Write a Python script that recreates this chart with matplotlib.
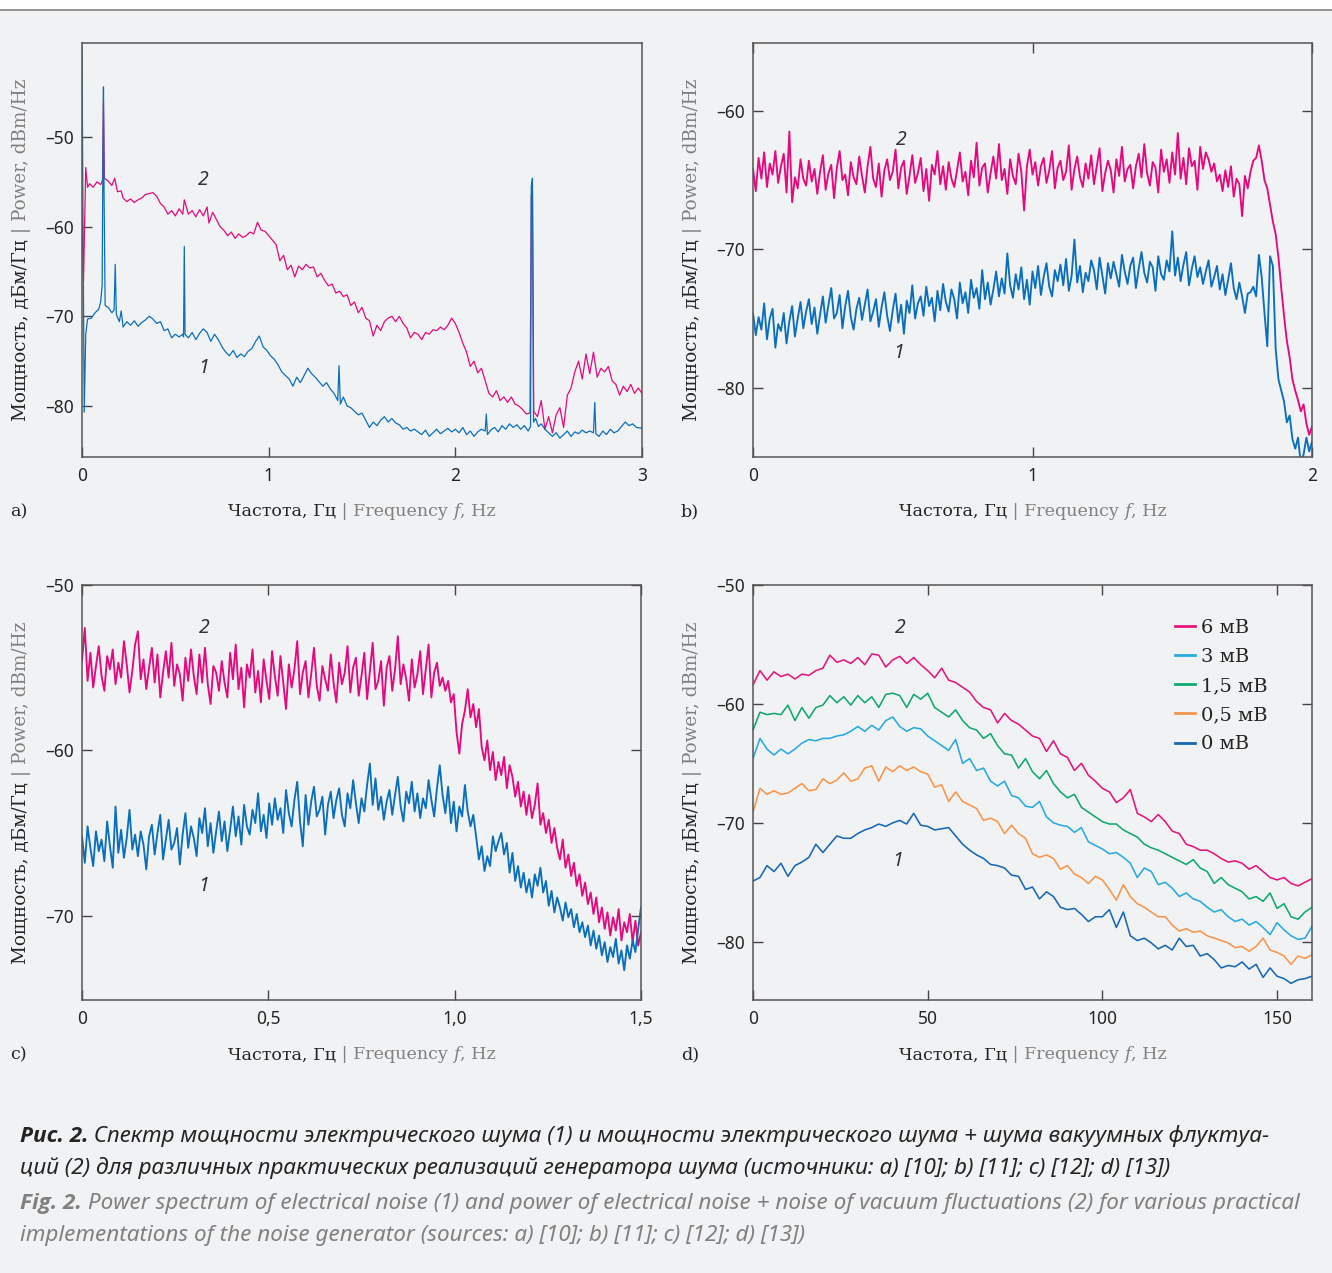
import numpy as np
import matplotlib
matplotlib.use("Agg")
import matplotlib.pyplot as plt
from matplotlib.transforms import IdentityTransform
from matplotlib.lines import Line2D
from matplotlib.patches import Rectangle

W, H = 1332, 1273
BG = "#f1f2f4"
DARK = "#242424"
GREY = "#808080"
PINK = "#e4097e"
BLUE = "#0a6fba"
SERIF = "DejaVu Serif"
SANS = "Noto Sans"

# ---- panel a: electrical noise (1) and noise + vacuum (2), with spikes
a2_freq = [0.000, 0.008, 0.020, 0.030, 0.040, 0.060, 0.080, 0.100, 0.110, 0.115, 0.120, 0.140, 0.160, 0.175, 0.190,
           0.210, 0.220, 0.240, 0.260, 0.280, 0.300, 0.320, 0.340, 0.360, 0.380, 0.400, 0.420, 0.440, 0.460, 0.480,
           0.500, 0.520, 0.540, 0.548, 0.570, 0.590, 0.610, 0.630, 0.650, 0.670, 0.680, 0.700, 0.720, 0.740, 0.760,
           0.780, 0.800, 0.820, 0.840, 0.860, 0.880, 0.900, 0.920, 0.940, 0.960, 0.980, 1.000, 1.020, 1.040, 1.060,
           1.080, 1.100, 1.120, 1.140, 1.160, 1.180, 1.200, 1.220, 1.240, 1.260, 1.280, 1.300, 1.320, 1.340, 1.360,
           1.380, 1.400, 1.420, 1.440, 1.460, 1.480, 1.500, 1.520, 1.540, 1.560, 1.580, 1.600, 1.620, 1.640, 1.660,
           1.680, 1.700, 1.720, 1.740, 1.760, 1.780, 1.800, 1.820, 1.840, 1.860, 1.880, 1.900, 1.920, 1.940, 1.960,
           1.980, 2.000, 2.020, 2.040, 2.060, 2.080, 2.100, 2.120, 2.140, 2.160, 2.180, 2.200, 2.220, 2.240, 2.260,
           2.280, 2.300, 2.320, 2.340, 2.360, 2.380, 2.400, 2.407, 2.413, 2.420, 2.440, 2.460, 2.480, 2.500, 2.520,
           2.540, 2.560, 2.580, 2.600, 2.620, 2.640, 2.660, 2.680, 2.700, 2.720, 2.740, 2.760, 2.780, 2.800, 2.820,
           2.840, 2.860, 2.880, 2.900, 2.920, 2.940, 2.960, 2.980, 3.000]
a2_db = [-58.0, -66.1, -53.4, -55.6, -55.2, -55.6, -55.0, -55.3, -54.8, -46.0, -54.6, -54.9, -55.4, -54.6, -56.1,
         -56.0, -56.8, -57.2, -56.9, -57.3, -57.0, -56.8, -56.4, -56.3, -56.2, -56.6, -57.4, -57.8, -58.6, -58.2,
         -58.8, -58.0, -58.6, -57.0, -58.6, -58.2, -58.9, -58.1, -58.8, -57.8, -59.6, -58.4, -59.2, -60.0, -60.4,
         -61.0, -60.6, -61.3, -60.8, -61.2, -61.0, -60.6, -60.8, -59.5, -60.4, -60.5, -61.0, -61.5, -62.0, -63.8,
         -63.2, -64.8, -64.3, -65.6, -64.4, -64.8, -64.2, -64.6, -64.5, -65.6, -65.2, -66.0, -66.6, -66.4, -67.4,
         -67.2, -67.8, -67.6, -68.8, -68.4, -69.6, -69.0, -70.2, -70.5, -72.2, -71.0, -71.6, -70.6, -70.2, -70.0,
         -70.6, -70.0, -70.8, -71.3, -72.4, -71.8, -72.0, -72.6, -71.8, -72.0, -71.5, -71.6, -71.2, -71.5, -71.0,
         -70.2, -70.8, -71.8, -73.0, -74.0, -75.6, -75.0, -76.3, -75.8, -77.2, -78.6, -79.0, -78.3, -79.4, -79.0,
         -79.6, -79.0, -79.8, -80.0, -80.4, -80.9, -80.8, -56.5, -56.0, -80.6, -81.2, -79.4, -82.6, -81.2, -83.0,
         -81.0, -80.2, -82.4, -78.8, -78.0, -76.2, -75.0, -77.0, -74.2, -76.4, -74.0, -76.8, -75.8, -76.2, -75.6,
         -77.2, -77.6, -78.8, -77.8, -78.4, -77.6, -78.6, -78.0, -78.6]
a1_freq = [0.000, 0.006, 0.012, 0.020, 0.030, 0.050, 0.070, 0.090, 0.100, 0.108, 0.112, 0.115, 0.118, 0.124, 0.140,
           0.160, 0.172, 0.178, 0.184, 0.200, 0.210, 0.220, 0.240, 0.260, 0.280, 0.300, 0.320, 0.340, 0.360, 0.380,
           0.400, 0.420, 0.440, 0.460, 0.480, 0.500, 0.520, 0.540, 0.544, 0.548, 0.552, 0.570, 0.590, 0.610, 0.630,
           0.650, 0.670, 0.690, 0.710, 0.730, 0.750, 0.770, 0.790, 0.810, 0.830, 0.850, 0.870, 0.890, 0.910, 0.930,
           0.950, 0.970, 0.990, 1.010, 1.030, 1.050, 1.070, 1.090, 1.110, 1.130, 1.150, 1.170, 1.190, 1.210, 1.230,
           1.250, 1.270, 1.290, 1.310, 1.330, 1.350, 1.370, 1.377, 1.384, 1.400, 1.420, 1.440, 1.460, 1.480, 1.500,
           1.520, 1.540, 1.560, 1.580, 1.600, 1.620, 1.640, 1.660, 1.680, 1.700, 1.720, 1.740, 1.760, 1.780, 1.800,
           1.820, 1.840, 1.860, 1.880, 1.900, 1.920, 1.940, 1.960, 1.980, 2.000, 2.020, 2.040, 2.060, 2.080, 2.100,
           2.120, 2.140, 2.160, 2.166, 2.172, 2.190, 2.210, 2.230, 2.250, 2.270, 2.290, 2.310, 2.330, 2.350, 2.370,
           2.390, 2.403, 2.407, 2.413, 2.419, 2.430, 2.445, 2.460, 2.480, 2.500, 2.520, 2.540, 2.560, 2.580, 2.600,
           2.620, 2.640, 2.660, 2.680, 2.700, 2.720, 2.740, 2.747, 2.753, 2.770, 2.790, 2.810, 2.830, 2.850, 2.870,
           2.890, 2.910, 2.930, 2.950, 2.970, 3.000]
a1_db = [-40.0, -62.0, -80.7, -72.0, -70.3, -70.2, -69.6, -69.2, -68.4, -66.5, -52.0, -44.4, -56.0, -68.8, -69.0,
         -69.6, -69.3, -64.2, -69.8, -70.6, -69.4, -71.2, -70.6, -71.0, -70.5, -71.1, -70.7, -70.4, -70.0, -70.3,
         -70.8, -70.6, -71.6, -71.4, -72.4, -72.0, -72.3, -72.0, -72.3, -62.2, -72.0, -72.4, -71.8, -72.6, -71.9,
         -71.4, -71.8, -72.8, -72.0, -72.6, -73.4, -74.0, -74.4, -73.8, -74.6, -74.2, -74.5, -73.9, -73.6, -72.8,
         -72.2, -73.4, -73.8, -74.4, -74.8, -75.4, -76.2, -76.6, -77.0, -77.8, -76.8, -77.4, -76.6, -75.8, -76.4,
         -76.8, -77.3, -77.8, -77.4, -78.1, -78.6, -79.4, -75.5, -79.8, -79.0, -80.0, -80.2, -80.6, -81.0, -80.8,
         -81.6, -82.4, -81.8, -82.2, -81.6, -81.2, -81.8, -81.4, -81.9, -82.1, -82.6, -82.4, -82.8, -82.6, -82.9,
         -83.2, -82.7, -83.4, -83.0, -82.6, -83.1, -82.8, -82.5, -82.9, -82.6, -83.0, -82.4, -83.2, -82.8, -83.4,
         -82.9, -82.6, -82.8, -80.9, -83.2, -82.7, -82.4, -82.9, -82.2, -82.6, -82.0, -82.4, -82.1, -82.6, -82.2,
         -82.8, -82.3, -55.5, -54.6, -81.8, -81.4, -82.3, -82.0, -82.6, -83.0, -83.4, -83.0, -83.6, -83.2, -82.8,
         -83.4, -82.9, -83.1, -82.7, -83.0, -82.8, -83.0, -79.6, -83.1, -83.4, -82.8, -83.2, -82.6, -83.0, -82.8,
         -82.3, -81.8, -82.2, -82.0, -82.4, -82.5]

# ---- panel b: 0..2 Hz, 201 evenly spaced bins
b2_db = [-64.2, -65.8, -63.4, -64.9, -63.0, -65.5, -63.8, -64.6, -62.9, -65.2,
         -64.0, -63.1, -65.9, -61.5, -66.6, -64.8, -65.6, -63.5, -64.9, -65.4,
         -63.6, -65.1, -64.2, -66.0, -64.4, -63.2, -65.7, -64.5, -63.9, -66.3,
         -64.1, -62.9, -65.0, -64.6, -66.1, -63.7, -64.8, -65.3, -63.3, -64.7,
         -65.9, -64.0, -62.6, -64.9, -65.5, -63.8, -66.2, -64.3, -63.5, -65.0,
         -64.4, -62.8, -65.6, -64.1, -63.6, -66.0, -64.7, -63.2, -65.2, -64.5,
         -63.4, -65.8, -64.2, -66.5, -63.9, -64.6, -62.9, -65.3, -64.0, -65.7,
         -63.7, -64.9, -65.5, -64.3, -63.0, -65.1, -64.4, -66.1, -63.6, -64.8,
         -62.3, -65.4, -64.1, -63.8, -65.9, -64.5, -63.3, -64.9, -62.4, -65.0,
         -64.2, -66.0, -63.5, -64.7, -65.3, -63.1, -64.4, -67.2, -64.0, -62.8,
         -64.6, -63.7, -65.4, -64.0, -63.4, -65.2, -64.3, -62.9, -65.6, -64.1,
         -63.6, -65.0, -64.4, -62.5, -65.7, -64.2, -63.3, -64.8, -65.5, -63.8,
         -64.9, -63.2, -65.3, -64.0, -62.7, -65.8, -64.5, -63.6, -64.3, -65.9,
         -63.5, -64.7, -62.6, -65.1, -64.2, -63.9, -65.6, -64.0, -63.1, -64.8,
         -62.4, -64.5, -65.4, -63.7, -64.1, -65.9, -62.8, -64.4, -63.5, -65.2,
         -63.0, -64.6, -61.6, -64.9, -63.4, -65.3, -62.7, -64.0, -63.6, -65.7,
         -62.6, -64.2, -63.0, -63.5, -64.4, -63.8, -65.1, -64.6, -65.8, -64.3,
         -65.5, -64.0, -66.2, -64.9, -65.3, -67.6, -64.7, -65.6, -64.4, -63.6,
         -63.4, -62.5, -63.6, -65.0, -65.6, -66.8, -68.0, -68.9, -70.6, -72.8,
         -74.8, -76.6, -77.8, -79.4, -80.2, -80.9, -81.7, -81.2, -82.6, -83.4, -82.8]
b1_db = [-74.6, -76.2, -74.9, -75.8, -73.9, -76.5, -75.0, -74.3, -77.1, -75.4,
         -75.9, -74.6, -76.8, -75.2, -74.1, -76.3, -75.0, -73.8, -75.7, -74.5,
         -73.6, -75.4, -74.2, -76.1, -74.7, -73.4, -75.3, -74.0, -72.8, -75.0,
         -74.6, -73.3, -75.7, -74.1, -73.0, -74.9, -75.8, -74.3, -73.5, -75.1,
         -74.0, -72.9, -75.2, -74.5, -73.6, -75.6, -74.2, -73.1, -74.8, -75.9,
         -74.4, -73.2, -75.3, -74.0, -76.1, -73.7, -74.6, -72.6, -75.0, -73.9,
         -73.4, -74.8, -72.7, -74.1, -73.5, -75.2, -73.0, -74.4, -72.5, -73.8,
         -74.5, -72.9, -73.6, -75.0, -72.4, -73.9, -73.1, -74.6, -72.2, -73.5,
         -72.8, -74.3, -71.5, -73.6, -72.4, -74.0, -72.9, -71.6, -73.4, -72.1,
         -73.2, -70.3, -72.6, -73.5, -71.8, -72.9, -71.3, -73.6, -72.2, -74.0,
         -71.6, -72.8, -71.2, -73.3, -72.0, -71.0, -72.7, -73.4, -71.5, -72.3,
         -71.1, -72.6, -70.7, -73.0, -71.9, -69.3, -72.4, -71.2, -73.1, -71.7,
         -72.3, -70.8, -71.5, -72.9, -70.6, -71.9, -73.2, -71.0, -72.1, -70.9,
         -71.8, -72.7, -70.4, -71.6, -72.5, -71.2, -70.6, -72.8, -71.4, -70.2,
         -71.7, -72.4, -70.9, -71.3, -73.0, -70.5, -71.8, -72.2, -70.8, -71.6,
         -68.7, -71.9, -70.6, -72.3, -71.1, -70.2, -72.6, -71.4, -70.5, -72.0,
         -71.3, -72.5, -71.6, -70.8, -72.7, -72.0, -71.2, -72.9, -71.8, -73.3,
         -72.2, -71.0, -72.8, -73.6, -72.4, -73.4, -74.6, -73.2, -73.1, -72.7,
         -73.4, -70.4, -72.0, -74.6, -77.0, -70.5, -71.2, -77.2, -79.4, -80.2,
         -81.0, -82.5, -82.0, -83.7, -84.4, -83.6, -85.5, -84.8, -83.6, -84.6, -83.9]

# ---- panel c: 0..1.5 Hz, 201 evenly spaced bins
c2_db = [-54.6, -52.6, -55.8, -54.1, -56.2, -54.9, -53.7, -55.5, -56.4, -54.3,
         -55.1, -53.9, -56.0, -54.7, -55.6, -53.4, -54.8, -56.5, -55.2, -53.6,
         -52.8, -55.7, -54.5, -56.3, -55.0, -53.8, -55.9, -54.2, -56.8, -55.3,
         -54.0, -55.6, -53.5, -56.1, -54.8, -55.4, -57.0, -54.4, -55.8, -53.9,
         -55.5, -56.6, -54.2, -55.9, -53.8, -56.0, -57.2, -54.9, -55.3, -56.4,
         -54.6, -55.9, -56.8, -54.1, -55.7, -53.6, -56.3, -55.0, -57.4, -54.8,
         -55.6, -53.9, -56.5, -55.2, -57.1, -54.5, -55.8, -56.9, -54.0, -55.5,
         -56.7, -54.3, -55.9, -57.5, -54.8, -56.2, -55.1, -53.4, -56.6, -55.3,
         -54.6, -56.8, -55.4, -53.8, -56.1, -57.0, -54.9, -55.7, -56.4, -54.2,
         -55.9, -57.1, -54.7, -56.0, -55.3, -53.7, -56.5, -55.0, -54.4, -56.7,
         -55.5, -54.1, -56.9, -55.2, -53.5, -56.3, -55.8, -54.6, -57.3, -55.0,
         -54.3, -56.4, -55.1, -53.1, -56.0, -54.8, -55.7, -57.0, -54.5, -56.2,
         -55.4, -54.0, -56.6, -55.1, -53.6, -56.8, -55.3, -54.7, -56.1, -55.6,
         -56.4, -55.8, -57.1, -56.6, -58.9, -60.2, -58.4, -57.6, -56.3, -58.0,
         -57.2, -58.6, -57.5, -59.8, -60.6, -59.4, -61.2, -60.1, -61.8, -60.7,
         -61.5, -60.4, -62.3, -60.9, -61.6, -62.8, -61.9, -63.4, -62.5, -63.9,
         -62.7, -64.1, -63.3, -62.0, -64.5, -63.8, -65.0, -64.2, -65.6, -64.7,
         -65.9, -66.6, -65.4, -67.1, -66.3, -67.6, -66.8, -68.2, -67.5, -68.8,
         -68.0, -69.3, -68.6, -69.9, -68.9, -70.4, -69.5, -70.8, -69.8, -71.2,
         -70.1, -70.9, -69.6, -71.5, -70.4, -71.0, -69.9, -71.6, -70.3, -71.8, -71.0]
c1_db = [-65.2, -66.8, -64.6, -65.9, -67.0, -64.9, -66.1, -65.4, -66.7, -64.3,
         -65.8, -67.1, -63.4, -66.2, -64.8, -66.5, -65.3, -63.6, -66.0, -65.1,
         -66.4, -64.9, -65.7, -67.2, -65.2, -64.5, -66.3, -65.0, -63.9, -66.6,
         -65.4, -64.2, -66.0, -65.6, -64.7, -66.9, -65.1, -63.8, -65.9, -64.6,
         -65.3, -66.4, -64.1, -65.0, -63.5, -65.8, -64.4, -66.2, -64.9, -63.7,
         -65.5, -64.3, -66.1, -64.8, -63.4, -65.2, -64.0, -65.7, -63.3, -64.6,
         -65.1, -63.6, -64.4, -62.6, -64.9, -63.9, -65.3, -63.2, -64.5, -62.9,
         -64.2, -63.5, -65.0, -62.4, -63.8, -64.6, -63.0, -61.9, -64.3, -65.8,
         -62.7, -64.5, -63.1, -62.2, -64.0, -63.6, -62.8, -65.1, -63.3, -62.5,
         -64.1, -63.0, -62.3, -63.9, -64.6, -62.6, -63.5, -61.8, -63.2, -64.4,
         -62.9, -63.7, -62.1, -60.8, -63.3, -61.7, -63.6, -62.8, -64.2, -63.1,
         -62.4, -63.9, -62.7, -61.6, -63.4, -64.3, -62.5, -63.2, -61.9, -63.7,
         -62.6, -64.1, -62.9, -63.5, -61.8, -63.0, -64.0, -62.3, -60.9, -62.7,
         -63.8, -62.2, -64.4, -63.1, -64.9, -63.4, -64.0, -62.1, -63.7, -64.6,
         -63.9, -65.2, -66.6, -65.8, -67.3, -66.4, -67.0, -65.2, -66.1, -65.5,
         -65.0, -66.3, -65.6, -67.4, -66.2, -67.9, -67.0, -68.3, -67.4, -68.6,
         -67.8, -68.9, -67.5, -68.2, -67.1, -68.6, -67.9, -69.4, -68.5, -69.8,
         -68.9, -69.5, -70.3, -69.2, -70.1, -69.6, -70.7, -69.9, -71.0, -70.4,
         -71.3, -70.6, -71.8, -70.9, -72.0, -71.2, -72.4, -71.6, -72.8, -71.9,
         -72.5, -71.4, -72.9, -72.1, -73.3, -71.8, -72.6, -71.5, -72.2, -70.8, -69.5]

# ---- panel d: 0..160 Hz, 2 Hz bins, five bias voltages
d_labels = ["6 мВ", "3 мВ", "1,5 мВ", "0,5 мВ", "0 мВ"]
d_colors = ["#e5157f", "#27aae1", "#10a870", "#f7964b", "#1768b4"]
d_6mv = [-58.4, -57.2, -58.0, -57.3, -57.7, -57.5, -57.9, -57.5, -57.6, -57.2, -57.0, -55.9, -56.5, -56.3, -56.6,
         -56.1, -56.7, -55.8, -55.9, -56.9, -56.3, -56.0, -56.6, -56.1, -56.7, -57.2, -57.8, -57.0, -58.0, -58.2,
         -58.6, -59.0, -59.8, -60.3, -60.5, -61.6, -60.8, -61.4, -61.7, -62.2, -62.7, -62.9, -64.0, -63.1, -64.2,
         -64.5, -65.6, -65.0, -66.0, -66.5, -67.1, -67.4, -68.3, -67.9, -67.2, -69.2, -69.5, -69.9, -69.3, -69.9,
         -70.7, -70.9, -71.8, -72.0, -72.3, -72.3, -72.6, -73.0, -73.3, -73.2, -73.4, -73.9, -73.6, -74.1, -74.6,
         -74.8, -74.6, -75.1, -75.3, -75.0, -74.7]
d_3mv = [-64.6, -62.9, -63.8, -64.3, -63.8, -64.2, -63.8, -63.3, -63.0, -63.1, -62.9, -62.9, -62.7, -62.6, -62.3,
         -61.9, -62.3, -61.8, -62.2, -61.4, -61.1, -61.9, -62.3, -62.0, -62.1, -62.7, -63.1, -63.5, -63.9, -63.0,
         -65.0, -64.6, -65.6, -65.4, -66.5, -66.9, -66.5, -67.7, -67.9, -68.6, -68.7, -68.2, -69.5, -70.0, -70.2,
         -70.3, -70.8, -70.4, -71.6, -71.9, -72.2, -72.6, -72.5, -72.9, -73.4, -74.6, -73.8, -74.1, -75.2, -75.0,
         -75.5, -76.2, -75.9, -76.4, -76.6, -77.1, -77.5, -77.3, -77.9, -78.3, -78.1, -78.6, -78.3, -78.8, -79.4,
         -78.4, -79.0, -79.5, -79.8, -79.7, -78.7]
d_15mv = [-62.2, -60.7, -60.9, -60.8, -60.9, -60.1, -61.4, -60.3, -61.2, -60.3, -60.1, -59.3, -59.9, -59.4, -60.1,
          -59.3, -59.9, -59.4, -60.3, -59.2, -59.1, -59.3, -60.3, -59.2, -59.6, -59.1, -60.3, -60.7, -61.1, -60.5,
          -61.4, -62.0, -62.2, -62.9, -62.5, -63.5, -64.2, -64.3, -65.4, -64.6, -65.7, -66.3, -65.6, -66.7, -67.4,
          -67.9, -67.6, -68.7, -69.1, -69.5, -69.9, -70.1, -70.1, -70.6, -70.9, -71.2, -71.8, -72.1, -72.3, -72.6,
          -72.9, -73.2, -73.5, -73.1, -73.8, -74.1, -75.1, -74.6, -75.2, -75.5, -75.8, -76.4, -76.2, -76.6, -75.9,
          -77.2, -76.8, -77.9, -78.1, -77.5, -77.1]
d_05mv = [-69.1, -67.1, -67.6, -67.3, -67.6, -67.5, -67.1, -66.7, -67.3, -67.2, -66.3, -66.7, -66.4, -65.8, -66.5,
          -66.3, -65.4, -65.2, -66.5, -65.3, -65.7, -65.2, -65.6, -65.3, -65.7, -65.9, -67.0, -66.8, -68.2, -67.4,
          -68.2, -68.5, -68.8, -69.8, -69.6, -69.9, -70.9, -70.2, -70.9, -71.3, -72.6, -72.9, -72.7, -73.0, -73.9,
          -73.6, -74.3, -74.6, -75.1, -74.5, -74.8, -75.6, -76.5, -75.2, -76.2, -76.8, -77.1, -77.5, -77.9, -77.9,
          -78.6, -79.1, -78.9, -79.2, -79.1, -79.5, -79.7, -79.9, -80.1, -80.5, -80.4, -80.8, -80.4, -79.7, -80.7,
          -80.9, -81.2, -81.9, -81.2, -81.4, -81.1]
d_0mv = [-74.9, -74.6, -73.6, -74.1, -73.4, -74.5, -73.6, -73.3, -72.9, -71.8, -72.5, -71.8, -71.1, -71.3, -71.3,
         -70.9, -70.6, -70.4, -70.1, -70.3, -70.0, -69.8, -70.1, -69.2, -70.2, -70.3, -70.6, -70.5, -70.4, -71.1,
         -71.8, -72.3, -72.7, -73.0, -73.5, -73.6, -73.8, -74.4, -74.5, -75.6, -75.4, -76.4, -75.8, -76.2, -77.1,
         -77.3, -77.2, -77.7, -78.3, -77.9, -77.9, -77.3, -78.8, -77.5, -79.5, -79.9, -79.7, -80.1, -80.6, -80.3,
         -80.7, -79.7, -80.4, -80.3, -81.2, -81.0, -81.5, -82.2, -82.0, -82.1, -81.7, -82.3, -81.9, -83.0, -82.2,
         -82.9, -83.1, -83.5, -83.2, -83.1, -82.9]

fig = plt.figure(figsize=(W / 100, H / 100), dpi=100)
fig.patch.set_facecolor(BG)
renderer = fig.canvas.get_renderer()
PX = IdentityTransform()

# white strip and rule at the very top
fig.add_artist(Rectangle((0, 1 - 9 / H), 1, 9 / H, transform=fig.transFigure, facecolor="white", edgecolor="none"))
fig.add_artist(Line2D([0, 1], [1 - 9.5 / H] * 2, transform=fig.transFigure, color="#8c8c8c", lw=1.3))


def px_axes(left, top, right, bottom):
    return fig.add_axes([left / W, 1 - bottom / H, (right - left) / W, (bottom - top) / H])


def style(ax, xlim, ylim, xticks, xlabels, yticks, all_sides=True):
    ax.set_facecolor(BG)
    ax.set_xlim(*xlim)
    ax.set_ylim(*ylim)
    ax.set_xticks(xticks)
    ax.set_xticklabels(xlabels)
    ax.set_yticks(yticks)
    ax.set_yticklabels(["\u2013" + str(abs(v)) for v in yticks])
    ax.tick_params(direction="in", length=7, width=1.0, color="#444444", labelsize=12.5,
                   labelcolor=DARK, top=all_sides, right=all_sides)
    ax.tick_params(axis="x", pad=7)
    ax.tick_params(axis="y", pad=6)
    for lab in ax.get_xticklabels() + ax.get_yticklabels():
        lab.set_family(SANS)
    for s in ax.spines.values():
        s.set_color("#555555")
        s.set_linewidth(1.1)


def advance(s, **kw):
    t = fig.text(0, 0, "x" + s + "x", **kw)
    w1 = t.get_window_extent(renderer).width
    t.set_text("xx")
    w0 = t.get_window_extent(renderer).width
    t.remove()
    return w1 - w0


def rich_text(x, y, pieces, size, family, rotation=0, align="center"):
    # pieces: (text, colour, style, weight[, family]); x, y are pixels from top-left
    pieces = [p if len(p) == 5 else p + (family,) for p in pieces]
    widths = [advance(p[0], fontsize=size, family=p[4], fontstyle=p[2], fontweight=p[3]) for p in pieces]
    total = sum(widths)
    yb = H - y
    if rotation == 0:
        pos = x - total / 2 if align == "center" else x
    else:
        pos = yb - total / 2
    for (s, c, st, wt, fam), w in zip(pieces, widths):
        if rotation == 0:
            fig.text(pos, yb, s, transform=PX, color=c, fontsize=size, family=fam, fontstyle=st,
                     fontweight=wt, ha="left", va="baseline")
        else:
            fig.text(x, pos, s, transform=PX, color=c, fontsize=size, family=fam, fontstyle=st,
                     fontweight=wt, ha="left", va="baseline", rotation=90, rotation_mode="anchor")
        pos += w


xlab = [("Частота, Гц", DARK, "normal", "normal"), (" | Frequency ", GREY, "normal", "normal"),
        ("f", GREY, "italic", "normal"), (", Hz", GREY, "normal", "normal")]
ylab = [("Мощность, дБм/Гц", DARK, "normal", "normal"), (" | Power, dBm/Hz", GREY, "normal", "normal")]
XLAB = 12.6
YLAB = 13.2


def decorate(left, right, top, bottom, letter):
    cx = (left + right) / 2
    rich_text(cx, bottom + 59, xlab, XLAB, SERIF)
    rich_text(left - 56, (top + bottom) / 2, ylab, YLAB, SERIF, rotation=90)
    fig.text(left - 72, H - (bottom + 59), letter, transform=PX, fontsize=XLAB, family=SERIF,
             color=DARK, ha="left", va="baseline")


def curve_label(ax, x, y, s):
    ax.text(x, y, s, fontsize=14, fontstyle="italic", family=SANS, color="#333333", ha="center", va="center")


# panel a
ax = px_axes(82, 43, 642, 457)
ax.plot(a2_freq, a2_db, color=PINK, lw=0.9)
ax.plot(a1_freq, a1_db, color=BLUE, lw=0.9)
style(ax, (0, 3), (-85.7, -39.5), [0, 1, 2, 3], ["0", "1", "2", "3"], [-50, -60, -70, -80], all_sides=False)
curve_label(ax, 0.65, -54.8, "2")
curve_label(ax, 0.65, -75.8, "1")
decorate(82, 642, 43, 457, "a)")

# panel b
ax = px_axes(753, 43, 1312, 457)
ax.plot(np.linspace(0, 2, len(b2_db)), b2_db, color=PINK, lw=1.35)
ax.plot(np.linspace(0, 2, len(b1_db)), b1_db, color=BLUE, lw=1.35)
style(ax, (0, 2), (-85.0, -55.1), [0, 1, 2], ["0", "1", "2"], [-60, -70, -80])
curve_label(ax, 0.53, -62.1, "2")
curve_label(ax, 0.52, -77.5, "1")
decorate(753, 1312, 43, 457, "b)")

# panel c
ax = px_axes(82, 585, 641, 1000)
ax.plot(np.linspace(0, 1.5, len(c2_db)), c2_db, color=PINK, lw=1.35)
ax.plot(np.linspace(0, 1.5, len(c1_db)), c1_db, color=BLUE, lw=1.35)
style(ax, (0, 1.5), (-75.1, -50), [0, 0.5, 1.0, 1.5], ["0", "0,5", "1,0", "1,5"], [-50, -60, -70])
curve_label(ax, 0.327, -52.6, "2")
curve_label(ax, 0.327, -68.2, "1")
decorate(82, 641, 585, 1000, "c)")

# panel d
ax = px_axes(753, 585, 1312, 1000)
handles = []
for vals, col, lab in zip([d_6mv, d_3mv, d_15mv, d_05mv, d_0mv], d_colors, d_labels):
    ln, = ax.plot(np.linspace(0, 160, len(vals)), vals, color=col, lw=1.15, label=lab)
    handles.append(ln)
style(ax, (0, 160), (-84.9, -50), [0, 50, 100, 150], ["0", "50", "100", "150"], [-50, -60, -70, -80])
curve_label(ax, 42.1, -53.6, "2")
curve_label(ax, 41.5, -73.2, "1")
leg = ax.legend(handles=handles, loc="upper left", bbox_to_anchor=(1175 / W, 1 - 619 / H),
                bbox_transform=fig.transFigure, frameon=False, prop={"family": SERIF, "size": 14},
                handlelength=1.05, handletextpad=0.3, labelspacing=0.57, borderpad=0, borderaxespad=0)
for t in leg.get_texts():
    t.set_color(DARK)
for h in leg.legend_handles:
    h.set_linewidth(2.0)
decorate(753, 1312, 585, 1000, "d)")

# caption
CAP = "Noto Sans"
BOLDCAP = ["Open Sans", "DejaVu Sans"]
CS = 16.2
rich_text(20, 1142, [("Рис. 2.", DARK, "italic", "bold", BOLDCAP),
                     (" Спектр мощности электрического шума (1) и мощности электрического шума + шума вакуумных флуктуа-",
                      DARK, "italic", "normal")], CS, CAP, align="left")
rich_text(20, 1174, [("ций (2) для различных практических реализаций генератора шума (источники: a) [10]; b) [11]; c) [12]; d) [13])",
                      DARK, "italic", "normal")], CS, CAP, align="left")
rich_text(20, 1209, [("Fig. 2.", GREY, "italic", "bold", BOLDCAP),
                     (" Power spectrum of electrical noise (1) and power of electrical noise + noise of vacuum fluctuations (2) for various practical",
                      GREY, "italic", "normal")], CS, CAP, align="left")
rich_text(20, 1241, [("implementations of the noise generator (sources: a) [10]; b) [11]; c) [12]; d) [13])",
                      GREY, "italic", "normal")], CS, CAP, align="left")

fig.savefig("out.png", dpi=100, facecolor=BG)
